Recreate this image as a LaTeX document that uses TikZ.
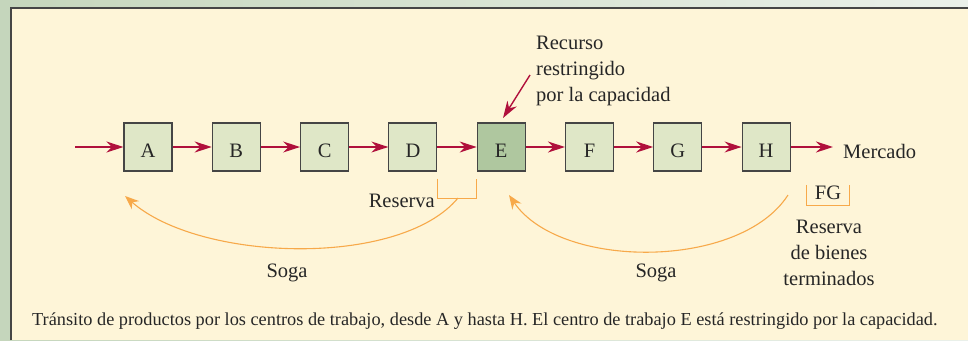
\documentclass[tikz,border=0pt]{standalone}
\usepackage{fontspec}
\setmainfont{Liberation Serif}
\usetikzlibrary{arrows.meta}

\definecolor{panelbg}{HTML}{FEF5D8}
\definecolor{boxfill}{HTML}{DFE7C7}
\definecolor{boxdark}{HTML}{AFC79F}
\definecolor{flowred}{HTML}{B0103C}
\definecolor{ropeorange}{HTML}{F7A94A}
\definecolor{framegray}{HTML}{454545}
\definecolor{outerleft}{HTML}{C5D6BC}
\definecolor{outerright}{HTML}{EAF0EA}

\begin{document}
\begin{tikzpicture}[x=1bp, y=-1bp,
  every node/.style={font=\fontsize{20.5bp}{26bp}\selectfont, text=black!85, inner sep=0pt},
  station/.style={draw=framegray, line width=1.1bp, fill=boxfill, minimum width=48bp, minimum height=48bp, text height=20bp, text depth=0pt},
  flow/.style={draw=flowred, line width=1.4bp, -{Stealth[length=17bp, width=11bp]}},
  rope/.style={draw=ropeorange, line width=1.1bp}]
  \useasboundingbox (0,0) rectangle (968,340);
  \shade[left color=outerleft, right color=outerright] (0,0) rectangle (968,340);
  \fill[panelbg] (10,7) rectangle (968,340);
  \draw[framegray, line width=1.5bp] (10.75,340) -- (10.75,7.75) -- (968,7.75);

  \node[station] (A) at (148,147) {A};
  \node[station] (B) at (236.3,147) {B};
  \node[station] (C) at (324.6,147) {C};
  \node[station] (D) at (412.9,147) {D};
  \node[station, fill=boxdark] (E) at (501.2,147) {E};
  \node[station] (F) at (589.5,147) {F};
  \node[station] (G) at (677.8,147) {G};
  \node[station] (H) at (766.1,147) {H};
  \coordinate (in) at (75,147);
  \coordinate (out) at (833,147);
  \draw[flow] (in) -- (A);
  \draw[flow] (A) -- (B);
  \draw[flow] (B) -- (C);
  \draw[flow] (C) -- (D);
  \draw[flow] (D) -- (E);
  \draw[flow] (E) -- (F);
  \draw[flow] (F) -- (G);
  \draw[flow] (G) -- (H);
  \draw[flow] (H) -- (out);
  \node[anchor=base west] (market) at (843,158) {Mercado};

  % constrained resource
  \node[anchor=north west, align=left] (constraint) at (536,36) {Recurso\\restringido\\por la capacidad};
  \coordinate (cpoint) at (530,75);
  \coordinate (etop) at (503,118);
  \draw[flow] (cpoint) -- (etop);

  % buffer before E and rope back to A
  \draw[rope] ([yshift=-7bp]D.south east) -- ++(0,20) -| ([yshift=-7bp]E.south west);
  \node[anchor=base east] (buflabel) at (435,207) {Reserva};
  \coordinate (buf) at (458,198);
  \coordinate (ropeend1) at (125,196);
  \draw[rope, -{Stealth[length=14bp, width=11bp]}] (buf) .. controls (400,268) and (200,262) .. (ropeend1);
  \node[anchor=base] (rope1label) at (287,277) {Soga};

  % finished goods buffer and rope back to E
  \node[anchor=base, minimum width=42bp, text height=14bp, text depth=6bp] (fg) at (828,199) {FG};
  \draw[rope] (fg.north west) |- (fg.south east) -- (fg.north east);
  \node[anchor=north, align=center] (fglabel) at (829,220) {Reserva\\de bienes\\terminados};
  \coordinate (ropestart2) at (788,195);
  \coordinate (ropeend2) at (509,195);
  \draw[rope, -{Stealth[length=14bp, width=11bp]}] (ropestart2) .. controls (740,270) and (560,270) .. (ropeend2);
  \node[anchor=base] (rope2label) at (656,277) {Soga};

  \node[anchor=base west, font=\fontsize{18.3bp}{20bp}\selectfont] (caption) at (32,325) {Tránsito de productos por los centros de trabajo, desde A y hasta H. El centro de trabajo E está restringido por la capacidad.};
\end{tikzpicture}
\end{document}
